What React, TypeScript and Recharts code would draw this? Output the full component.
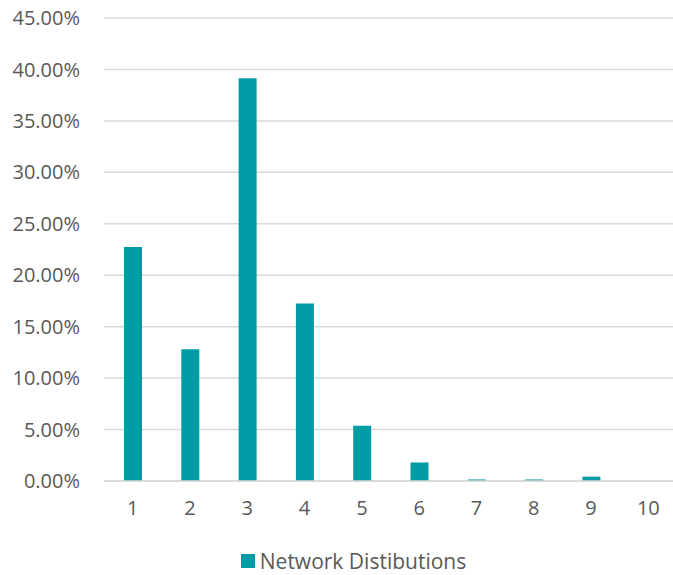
import React from 'react';
import { BarChart, Bar, XAxis, YAxis, CartesianGrid, Legend } from 'recharts';

const hops = ['1', '2', '3', '4', '5', '6', '7', '8', '9', '10'];
const shares = [22.75, 12.8, 39.15, 17.25, 5.37, 1.8, 0.15, 0.15, 0.42, 0];
const yTicks = [0, 5, 10, 15, 20, 25, 30, 35, 40, 45];
const seriesName = 'Network Distibutions';

const data = hops.map((hop, i) => ({ hop, share: shares[i] }));

const FONT = '"Open Sans", "Noto Sans", sans-serif';
const TEXT = '#595959';
const GRID = '#d9d9d9';
const TEAL = '#009ca6';

const LegendBox = () => (
    <div
        style={{
            display: 'flex',
            justifyContent: 'center',
            alignItems: 'center',
            boxSizing: 'border-box',
            height: 26,
            paddingBottom: 2,
            paddingLeft: 30,
            fontFamily: FONT,
            fontSize: 21,
            color: TEXT,
        }}
    >
        <span style={{ width: 14, height: 14, background: TEAL, marginRight: 5, display: 'inline-block' }} />
        <span style={{ display: 'inline-block', height: 22, lineHeight: '22px', overflow: 'visible' }}>{seriesName}</span>
    </div>
);

export default function App() {
    return (
        <div style={{ position: 'absolute', left: 0, top: 0, width: 673, height: 575, overflow: 'hidden', background: '#fff' }}>
            <BarChart
                width={680}
                height={575}
                data={data}
                margin={{ top: 18, right: 3, left: 0, bottom: 0 }}
            >
                <CartesianGrid vertical={false} stroke={GRID} strokeWidth={1.5} />
                <XAxis
                    dataKey="hop"
                    axisLine={{ stroke: GRID, strokeWidth: 1.5 }}
                    tickLine={false}
                    tickSize={0}
                    tickMargin={20}
                    height={68}
                    tick={{ fill: TEXT, fontSize: 20, fontFamily: FONT }}
                />
                <YAxis
                    domain={[0, 45]}
                    ticks={yTicks}
                    width={104}
                    axisLine={false}
                    tickLine={false}
                    tickSize={0}
                    tickMargin={24}
                    tickFormatter={(v: number) => `${v.toFixed(2)}%`}
                    tick={{ fill: TEXT, fontSize: 20, fontFamily: FONT }}
                />
                <Legend verticalAlign="bottom" height={26} wrapperStyle={{ bottom: 0 }} content={() => <LegendBox />} />
                <Bar dataKey="share" name={seriesName} fill={TEAL} barSize={18} isAnimationActive={false} />
            </BarChart>
        </div>
    );
}
